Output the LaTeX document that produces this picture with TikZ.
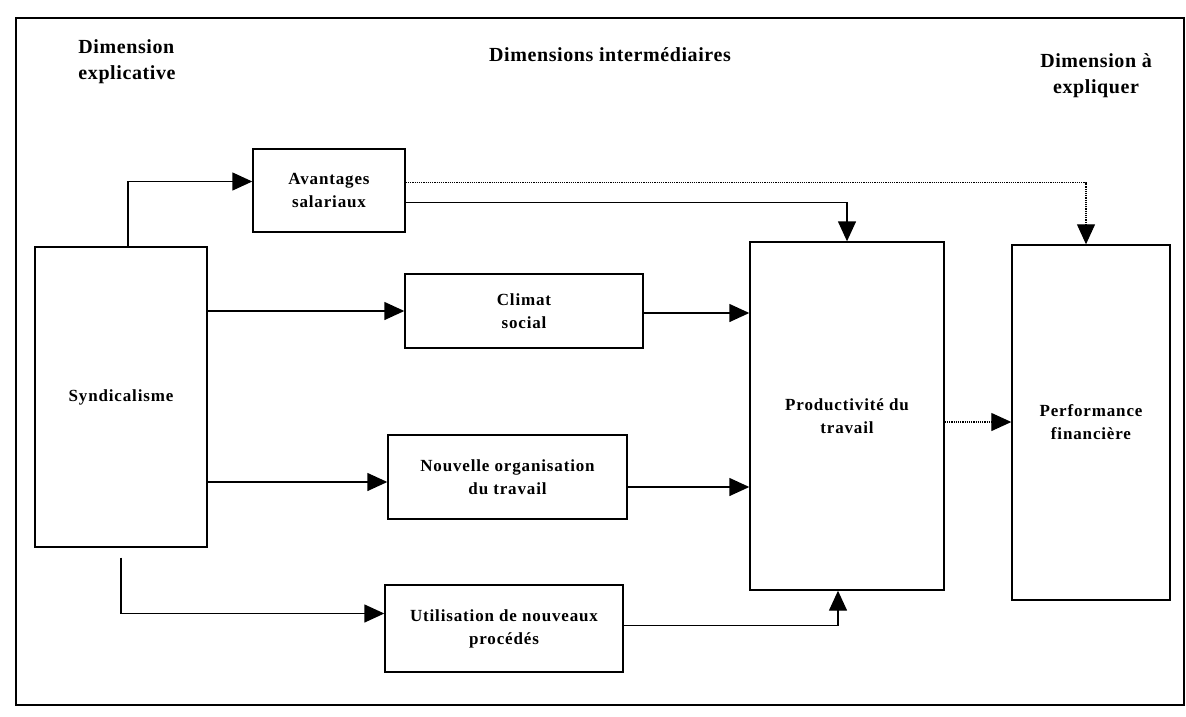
\documentclass[tikz,border=0pt]{standalone}
\usepackage{fontspec}
\setmainfont{Liberation Serif}
\newfontfamily\boxfont[LetterSpace=5]{Liberation Serif}
\newfontfamily\headfont[LetterSpace=3]{Liberation Serif}
\usetikzlibrary{arrows.meta,calc}
\begin{document}
\begin{tikzpicture}[x=1pt,y=-1pt,
  boxnode/.style={draw,line width=1.4pt,inner sep=0pt,align=center,
    font=\boxfont\bfseries\fontsize{17}{23}\selectfont},
  headnode/.style={inner sep=0pt,font=\headfont\bfseries\fontsize{20}{26}\selectfont},
  arr/.style={line width=1.4pt,-{Triangle[length=20pt,width=18pt]}},
  dotarr/.style={line width=1.2pt,densely dotted,-{Triangle[length=20pt,width=18pt]}}]
\useasboundingbox (0,0) rectangle (1186,717);
\draw[line width=1.4pt] (16,18) rectangle (1184,705);

\node[headnode,align=left] (h1) at (127,62) {Dimension\\explicative};
\node[headnode] (h2) at (610,55) {Dimensions intermédiaires};
\node[headnode,align=center] (h3) at (1096,76) {Dimension à\\expliquer};

\node[boxnode,minimum width=172pt,minimum height=300pt] (syn) at (121,397) {Syndicalisme};
\node[boxnode,minimum width=152pt,minimum height=83pt] (av) at (329,190.5) {Avantages\\salariaux};
\node[boxnode,minimum width=238pt,minimum height=74pt] (cl) at (524,311) {Climat\\social};
\node[boxnode,minimum width=239pt,minimum height=84pt] (nouv) at (507.5,477) {Nouvelle organisation\\du travail};
\node[boxnode,minimum width=238pt,minimum height=87pt] (ut) at (504,628.5) {Utilisation de nouveaux\\procédés};
\node[boxnode,minimum width=194pt,minimum height=348pt] (prod) at (847,416) {Productivité du\\travail};
\node[boxnode,minimum width=158pt,minimum height=355pt] (perf) at (1091,422.5) {Performance\\financière};

\coordinate (nouvIn) at ([yshift=-5pt]nouv.west);
\coordinate (nouvOut) at ([yshift=-10pt]nouv.east);
\coordinate (clOut) at ([yshift=-2pt]cl.east);
\coordinate (prodOut) at ([yshift=-6pt]prod.east);

\draw[arr] ([xshift=7pt]syn.north) |- ([yshift=9pt]av.west);
\draw[arr] (syn.east |- cl.west) -- (cl.west);
\draw[arr] (syn.east |- nouvIn) -- (nouvIn);
\draw[arr] ([yshift=-10pt]syn.south) |- ([yshift=15pt]ut.west);

\draw[arr] (clOut) -- (clOut -| prod.west);
\draw[arr] (nouvOut) -- (nouvOut -| prod.west);
\draw[arr] ([yshift=3pt]ut.east) -| ([xshift=-9pt]prod.south);
\draw[arr] ([yshift=-12pt]av.east) -| (prod.north);
\draw[dotarr] ([yshift=8pt]av.east) -| ([xshift=-5pt]perf.north);
\draw[dotarr] (prodOut) -- (prodOut -| perf.west);
\end{tikzpicture}
\end{document}
